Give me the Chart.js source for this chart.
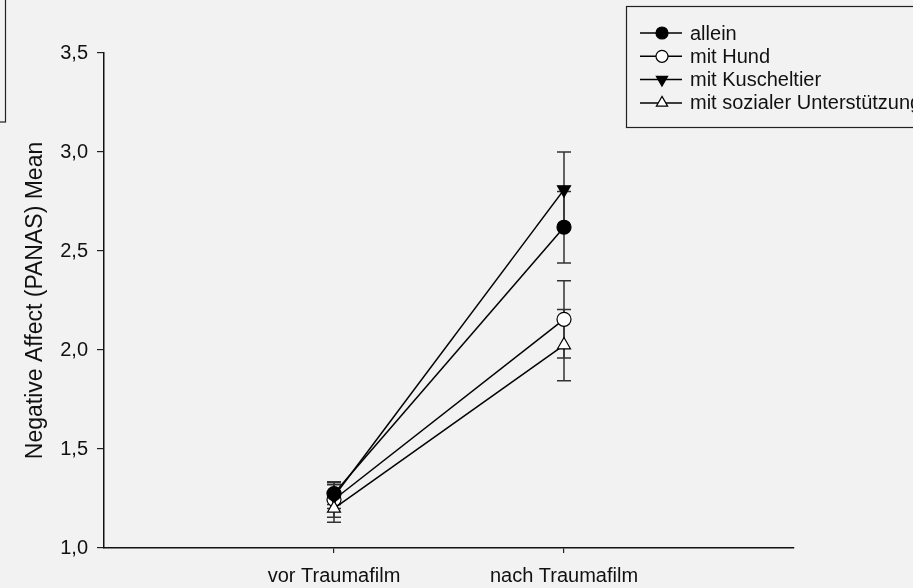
<!DOCTYPE html>
<html>
<head>
<meta charset="utf-8">
<script src="https://cdn.jsdelivr.net/npm/chart.js@4/dist/chart.umd.min.js"></script>
<style>
  html, body { margin: 0; padding: 0; background: #f2f2f2; overflow: hidden; }
  #wrap { width: 913px; height: 588px; position: relative; }
  canvas { display: block; }
</style>
</head>
<body>
<div id="wrap"><canvas id="panas_chart" width="913" height="588"></canvas></div>
<script>
"use strict"
// Negative Affect (PANAS), means with error bars
var categories = ["vor Traumafilm", "nach Traumafilm"];
var seriesNames = ["allein", "mit Hund", "mit Kuscheltier", "mit sozialer Unterstützung"];
var allein = [1.275, 2.62];
var mitHund = [1.245, 2.155];
var mitKuscheltier = [1.26, 2.81];
var mitSozial = [1.20, 2.025];
var errAllein = [0.055, 0.18];
var errHund = [0.09, 0.195];
var errKuscheltier = [0.06, 0.19];
var errSozial = [0.07, 0.18];
var yTicks = [1.0, 1.5, 2.0, 2.5, 3.0, 3.5];

var FONT = "'Liberation Sans', Arial, sans-serif";

function toPoints(values){
    return values.map(function(v, i){ return {x: i + 1, y: v}; });
}

function makeSet(label, values, errors, style, fill, rotation, order){
    return {
        label: label,
        data: toPoints(values),
        errors: errors,
        order: order,
        borderColor: "#000",
        borderWidth: 1.5,
        pointStyle: style,
        pointRotation: rotation,
        pointRadius: style === "circle" ? 7 : 7.5,
        pointBackgroundColor: fill,
        pointBorderColor: "#000",
        pointBorderWidth: 1.2,
        tension: 0,
        fill: false
    };
}

// error bars are painted under the lines and markers
var errorBars = {
    id: "errorBars",
    beforeDatasetsDraw: function(chart){
        var ctx = chart.ctx;
        var xs = chart.scales.x, ys = chart.scales.y;
        ctx.save();
        ctx.strokeStyle = "#333";
        ctx.lineWidth = 1.5;
        chart.data.datasets.forEach(function(ds){
            ds.data.forEach(function(p, i){
                var e = ds.errors[i];
                var px = xs.getPixelForValue(p.x);
                var top = ys.getPixelForValue(p.y + e);
                var bot = ys.getPixelForValue(p.y - e);
                ctx.beginPath();
                ctx.moveTo(px, top); ctx.lineTo(px, bot);
                ctx.moveTo(px - 7, top); ctx.lineTo(px + 7, top);
                ctx.moveTo(px - 7, bot); ctx.lineTo(px + 7, bot);
                ctx.stroke();
            });
        });
        ctx.restore();
    }
};

// boxed legend at the top right, plus the stray frame edge at the top left
var boxLegend = {
    id: "boxLegend",
    afterDraw: function(chart){
        var ctx = chart.ctx;
        ctx.save();
        ctx.strokeStyle = "#222";
        ctx.lineWidth = 1.2;
        ctx.strokeRect(-10, -10, 15.5, 132);
        ctx.strokeRect(626.5, 6.5, 340, 121);
        ctx.font = "20px " + FONT;
        ctx.textBaseline = "middle";
        ctx.fillStyle = "#111";
        chart.data.datasets.forEach(function(ds, i){
            var y = 33 + i * 23.3;
            ctx.strokeStyle = "#000";
            ctx.lineWidth = 1.5;
            ctx.beginPath();
            ctx.moveTo(640, y); ctx.lineTo(682, y);
            ctx.stroke();
            ctx.lineWidth = 1.2;
            ctx.fillStyle = ds.pointBackgroundColor;
            Chart.helpers.drawPoint(ctx, {
                pointStyle: ds.pointStyle,
                rotation: ds.pointRotation,
                radius: ds.pointStyle === "circle" ? 6 : 6.5,
                borderWidth: 1.2
            }, 662, y);
            ctx.fillStyle = "#111";
            ctx.fillText(ds.label, 690, y + 1);
        });
        ctx.restore();
    }
};

new Chart(document.getElementById("panas_chart"), {
    type: "line",
    data: {
        datasets: [
            makeSet(seriesNames[0], allein, errAllein, "circle", "#000", 0, 1),
            makeSet(seriesNames[1], mitHund, errHund, "circle", "#fff", 0, 3),
            makeSet(seriesNames[2], mitKuscheltier, errKuscheltier, "triangle", "#000", 180, 2),
            makeSet(seriesNames[3], mitSozial, errSozial, "triangle", "#fff", 0, 0)
        ]
    },
    options: {
        responsive: false,
        animation: false,
        devicePixelRatio: 1,
        layout: { padding: { left: 0, top: 53, right: 119, bottom: 0 } },
        plugins: {
            legend: { display: false },
            tooltip: { enabled: false }
        },
        scales: {
            x: {
                type: "linear",
                min: 0,
                max: 3,
                afterFit: function(scale){ scale.height = 40; },
                afterBuildTicks: function(scale){
                    scale.ticks = categories.map(function(c, i){ return {value: i + 1}; });
                },
                ticks: {
                    autoSkip: false,
                    maxRotation: 0,
                    padding: 11,
                    color: "#111",
                    font: { family: FONT, size: 20 },
                    callback: function(v){ return categories[v - 1]; }
                },
                grid: { drawOnChartArea: false, drawTicks: true, tickLength: 5, color: "#222", lineWidth: 1.2 },
                border: { display: true, color: "#111", width: 1.5 }
            },
            y: {
                min: 1,
                max: 3.5,
                afterFit: function(scale){ scale.width = 104; },
                afterBuildTicks: function(scale){
                    scale.ticks = yTicks.map(function(v){ return {value: v}; });
                },
                ticks: {
                    padding: 9,
                    color: "#111",
                    font: { family: FONT, size: 20 },
                    callback: function(v){ return v.toFixed(1).replace(".", ","); }
                },
                grid: { drawOnChartArea: false, drawTicks: true, tickLength: 7, color: "#222", lineWidth: 1.2 },
                border: { display: true, color: "#111", width: 1.5 },
                title: {
                    display: true,
                    text: "Negative Affect (PANAS) Mean",
                    color: "#111",
                    font: { family: FONT, size: 23 },
                    padding: { top: 22, bottom: 0 }
                }
            }
        }
    },
    plugins: [errorBars, boxLegend]
});
</script>
</body>
</html>
